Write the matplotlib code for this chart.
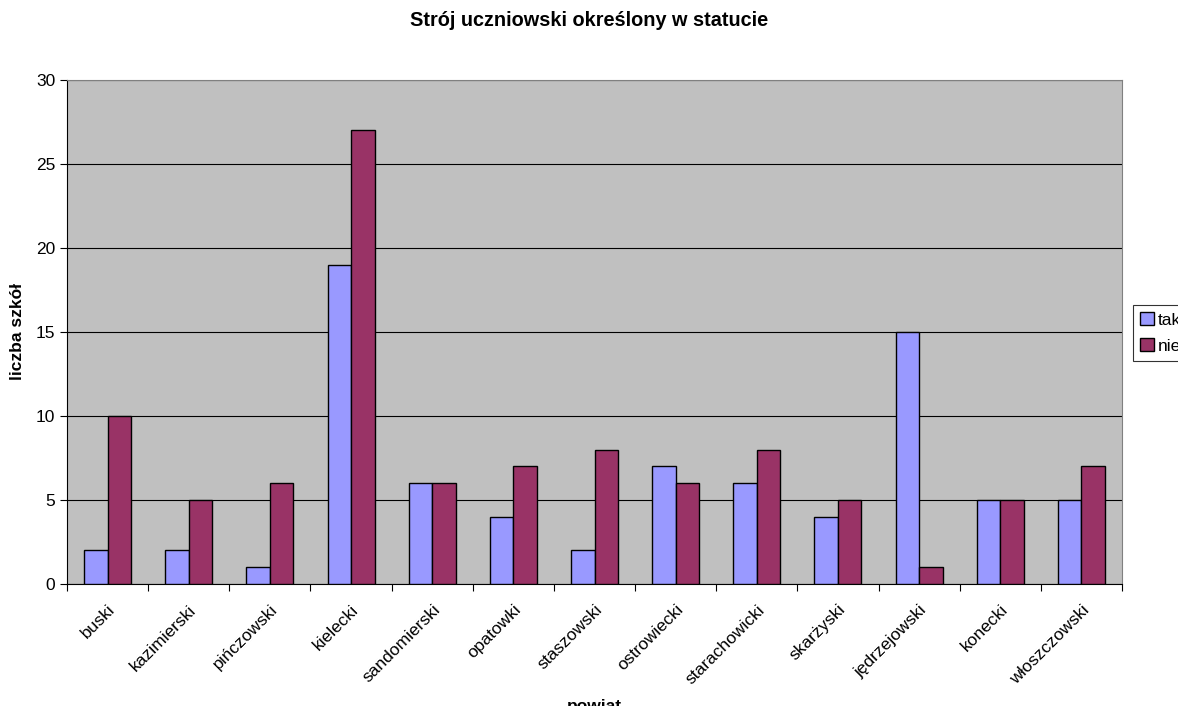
import numpy as np
import matplotlib
matplotlib.use("Agg")
import matplotlib.pyplot as plt

plt.rcParams['font.family'] = ['Liberation Sans', 'DejaVu Sans']

powiaty = ['buski', 'kazimierski', 'pińczowski', 'kielecki', 'sandomierski',
           'opatowki', 'staszowski', 'ostrowiecki', 'starachowicki', 'skarżyski',
           'jędrzejowski', 'konecki', 'włoszczowski']
tak = [2, 2, 1, 19, 6, 4, 2, 7, 6, 4, 15, 5, 5]
nie = [10, 5, 6, 27, 6, 7, 8, 6, 8, 5, 1, 5, 7]

fig = plt.figure(figsize=(11.78, 7.06), dpi=100)
ax = fig.add_axes([67 / 1178, 1 - 584 / 706, (1122 - 67) / 1178, (584 - 80) / 706])

x = np.arange(len(powiaty)) + 0.5
w = 0.29
ax.bar(x - w / 2, tak, w, color='#9999FF', edgecolor='black', linewidth=1, label='tak', zorder=3)
ax.bar(x + w / 2, nie, w, color='#993366', edgecolor='black', linewidth=1, label='nie', zorder=3)

ax.set_facecolor('#C0C0C0')
ax.set_xlim(0, len(powiaty))
ax.set_ylim(0, 30)
ax.set_yticks(range(0, 31, 5))
ax.yaxis.grid(True, color='black', linewidth=0.8, zorder=1)
ax.set_axisbelow(True)

# ticks between categories, labels at category centres
ax.set_xticks(np.arange(len(powiaty) + 1))
ax.set_xticklabels([])
ax.set_xticks(x, minor=True)
ax.set_xticklabels(powiaty, minor=True, rotation=45, ha='right', rotation_mode='anchor', fontsize=12.5)
ax.tick_params(axis='x', which='minor', length=0, pad=13)
ax.tick_params(axis='x', which='major', length=5, direction='out')
ax.tick_params(axis='y', length=5, direction='out', labelsize=12.5)

for s in ['top', 'right']:
    ax.spines[s].set_color('#808080')
ax.spines['left'].set_color('black')
ax.spines['bottom'].set_color('black')

ax.set_ylabel('liczba szkół', fontsize=12.5, fontweight='bold')
ax.yaxis.set_label_coords((25 - 67) / (1122 - 67), 0.5)
ax.set_xlabel('powiat', fontsize=12.5, fontweight='bold')
ax.xaxis.set_label_coords(0.5, -(699 - 584) / (584 - 80))
fig.suptitle('Strój uczniowski określony w statucie', fontsize=14.3, fontweight='bold', y=0.985)

leg = fig.legend(loc='center left', bbox_to_anchor=(1133 / 1178, 1 - 333 / 706), frameon=True,
                 fancybox=False, edgecolor='black', fontsize=12.5, handlelength=0.8, handleheight=0.8,
                 handletextpad=0.2, borderpad=0.4, labelspacing=0.6, borderaxespad=0)
leg.get_frame().set_linewidth(0.8)

fig.savefig('out.png', dpi=100)
